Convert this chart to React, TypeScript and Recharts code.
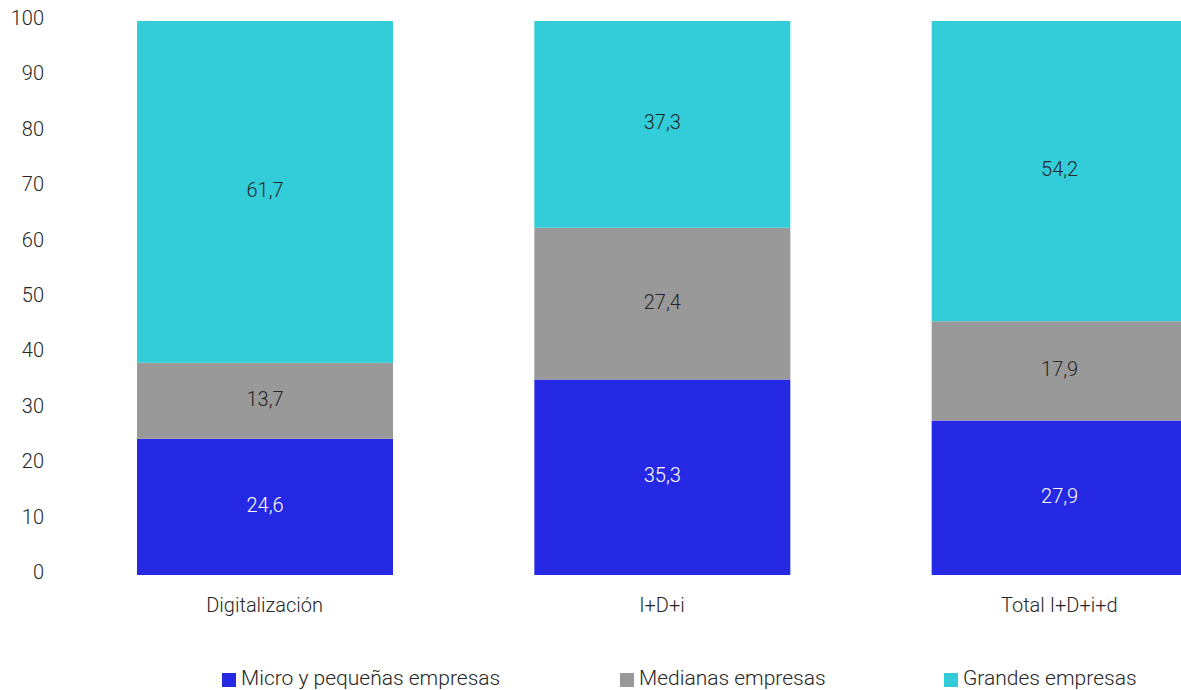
import React from 'react';
import { BarChart, Bar, XAxis, YAxis, Legend, LabelList } from 'recharts';

const categories = ['Digitalización', 'I+D+i', 'Total I+D+i+d'];
const micro = [24.6, 35.3, 27.9];
const medianas = [13.7, 27.4, 17.9];
const grandes = [61.7, 37.3, 54.2];
const yTicks = [0, 10, 20, 30, 40, 50, 60, 70, 80, 90, 100];
const seriesNames = ['Micro y pequeñas empresas', 'Medianas empresas', 'Grandes empresas'];
const legendLefts = [222, 620, 944];

const data = categories.map((c, i) => ({
  name: c,
  micro: micro[i],
  medianas: medianas[i],
  grandes: grandes[i],
}));

const FONT = 'Roboto, "Noto Sans", sans-serif';
const TEXT = '#262626';
const fmt = (v: any) => String(v).replace('.', ',');

const YTick = (props: any) => {
  const { x, y, payload } = props;
  return (
    <text x={x} y={y - 3} textAnchor="end" dominantBaseline="central"
      fontFamily={FONT} fontWeight={300} fontSize={20} fill={TEXT}>
      {payload.value}
    </text>
  );
};

const XTick = (props: any) => {
  const { x, y, payload } = props;
  return (
    <text x={x} y={y + 16} textAnchor="middle"
      fontFamily={FONT} fontWeight={300} fontSize={20} fill={TEXT}>
      {payload.value}
    </text>
  );
};

const LegendContent = (props: any) => {
  const payload = [...(props.payload || [])].sort(
    (a: any, b: any) => seriesNames.indexOf(a.value) - seriesNames.indexOf(b.value)
  );
  return (
    <div style={{ position: 'relative', height: 24, width: 1270,
      fontFamily: FONT, fontWeight: 300, fontSize: 21, color: TEXT, whiteSpace: 'nowrap' }}>
      {payload.map((p: any, i: number) => (
        <div key={p.value} style={{ position: 'absolute', left: legendLefts[i], top: 0, height: 24, display: 'flex', alignItems: 'center' }}>
          <span style={{ display: 'inline-block', width: 14, height: 14, background: p.color, marginRight: 5, marginTop: 4 }} />
          <span>{p.value}</span>
        </div>
      ))}
    </div>
  );
};

export default function App() {
  return (
    <div style={{ position: 'absolute', left: 0, top: 0, width: 1181, height: 690, overflow: 'hidden', background: '#fff' }}>
      <BarChart width={1270} height={690} data={data}
        margin={{ top: 21, right: 12, left: 8, bottom: 0 }} barCategoryGap={0}>
        <XAxis dataKey="name" axisLine={false} tickLine={false} tickSize={0} tickMargin={21}
          height={91} tick={<XTick />} interval={0} />
        <YAxis domain={[0, 100]} ticks={yTicks} axisLine={false} tickLine={false} tickSize={0}
          tickMargin={22} width={58} tick={<YTick />} interval={0} />
        <Legend verticalAlign="bottom" height={24} content={<LegendContent />}
          wrapperStyle={{ left: 0, width: 1270, bottom: 0 }} />
        <Bar dataKey="micro" name={seriesNames[0]} stackId="a" fill="#2529E3" barSize={256} isAnimationActive={false}>
          <LabelList dataKey="micro" position="center" formatter={fmt} fill="#ffffff"
            fontFamily={FONT} fontWeight={300} fontSize={20} dy={-2} />
        </Bar>
        <Bar dataKey="medianas" name={seriesNames[1]} stackId="a" fill="#999999" barSize={256} isAnimationActive={false}>
          <LabelList dataKey="medianas" position="center" formatter={fmt} fill={TEXT}
            fontFamily={FONT} fontWeight={300} fontSize={20} dy={-2} />
        </Bar>
        <Bar dataKey="grandes" name={seriesNames[2]} stackId="a" fill="#32CDD9" barSize={256} isAnimationActive={false}>
          <LabelList dataKey="grandes" position="center" formatter={fmt} fill={TEXT}
            fontFamily={FONT} fontWeight={300} fontSize={20} dy={-2} />
        </Bar>
      </BarChart>
    </div>
  );
}
